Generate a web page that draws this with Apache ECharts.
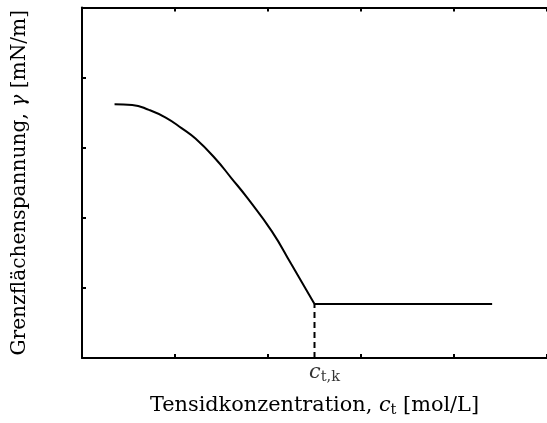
<!DOCTYPE html>
<html>
<head>
<meta charset="utf-8">
<script src="https://cdn.jsdelivr.net/npm/echarts@6/dist/echarts.min.js"></script>
<style>html,body{margin:0;padding:0;background:#fff;}#c{width:547px;height:423px;}</style>
</head>
<body>
<div id="c"></div>
<script>
// Data
const curveX = [0.35, 0.54, 0.72, 0.90, 1.07, 1.22, 1.43, 1.61, 1.78, 2.04, 2.25, 2.50];
const curveY = [3.62, 3.61, 3.54, 3.43, 3.28, 3.13, 2.85, 2.56, 2.28, 1.81, 1.34, 0.77];
const plateauX = [2.50, 4.41];
const plateauY = [0.77, 0.77];
const criticalX = 2.50;
const criticalY = 0.77;
const xLabelText = 'Tensidkonzentration, ';
const yLabelText = 'Grenzflächenspannung, ';

const FONT = 'DejaVu Serif';
// pick font sizes so the axis titles span about as wide as in the reference
const cv = document.createElement('canvas').getContext('2d');
cv.font = '16px "DejaVu Serif", serif';
const wx = cv.measureText(xLabelText + 'ct [mol/L]').width;
const wy = cv.measureText(yLabelText + 'γ [mN/m]').width;
const FS = Math.max(15, Math.min(22, 16 * 332 / wx));
const FSY = Math.max(15, Math.min(22, 16 * 346 / wy));
const FSs = FS * 0.7;

const chart = echarts.init(document.getElementById('c'), null, {renderer: 'canvas'});
const pair = (xs, ys) => xs.map((x, i) => [x, ys[i]]);

const axisBase = {
  type: 'value', min: 0, max: 5, interval: 1,
  axisLine: {show: true, onZero: false, lineStyle: {color: '#000', width: 2}},
  axisTick: {show: true, inside: true, length: 4, lineStyle: {color: '#000', width: 2}},
  axisLabel: {show: false},
  splitLine: {show: false}
};

chart.setOption({
  animation: false,
  textStyle: {fontFamily: FONT},
  grid: {left: 82, top: 7.5, width: 472.5, height: 354.5, containLabel: false},
  xAxis: [
    Object.assign({}, axisBase, {
      position: 'bottom',
      name: '{n|' + xLabelText + '}{i|c}{s|t}{n| [mol/L]}',
      nameLocation: 'middle', nameGap: 36,
      nameTextStyle: {
        fontFamily: FONT, fontSize: FS,
        rich: {
          n: {fontFamily: FONT, fontSize: FS, color: '#000', lineHeight: 24},
          i: {fontFamily: FONT, fontStyle: 'italic', fontSize: FS, color: '#000', lineHeight: 24},
          s: {fontFamily: FONT, fontSize: FSs, color: '#000', lineHeight: 24, padding: [9, 0, 0, 0]}
        }
      }
    }),
    Object.assign({}, axisBase, {position: 'top'})
  ],
  yAxis: [
    Object.assign({}, axisBase, {
      position: 'left',
      name: '{n|' + yLabelText + '}{i|γ}{n| [mN/m]}',
      nameLocation: 'middle', nameGap: 50, nameRotate: 90,
      nameTextStyle: {
        fontFamily: FONT, fontSize: FSY,
        rich: {
          n: {fontFamily: FONT, fontSize: FSY, color: '#000', lineHeight: 24},
          i: {fontFamily: FONT, fontStyle: 'italic', fontSize: FSY, color: '#000', lineHeight: 24}
        }
      }
    })
  ],
  series: [
    {
      type: 'line', data: pair(curveX, curveY), smooth: 0.5,
      showSymbol: false, lineStyle: {color: '#000', width: 2}
    },
    {
      type: 'line', data: pair(plateauX, plateauY),
      showSymbol: false, lineStyle: {color: '#000', width: 2}
    },
    {
      type: 'line', data: [[criticalX, 0], [criticalX, criticalY]],
      showSymbol: false, lineStyle: {color: '#000', width: 2, type: [6, 4]}
    },
    {
      type: 'scatter', data: [[criticalX, 0]], symbolSize: 0,
      label: {
        show: true, position: 'bottom', distance: 4, offset: [10, 0],
        formatter: '{i|c}{s|t,k}',
        rich: {
          i: {fontFamily: FONT, fontStyle: 'italic', fontSize: FS, color: '#000', lineHeight: 22},
          s: {fontFamily: FONT, fontSize: FSs, color: '#000', lineHeight: 22, padding: [8, 0, 0, 0]}
        }
      }
    }
  ]
});
</script>
</body>
</html>
